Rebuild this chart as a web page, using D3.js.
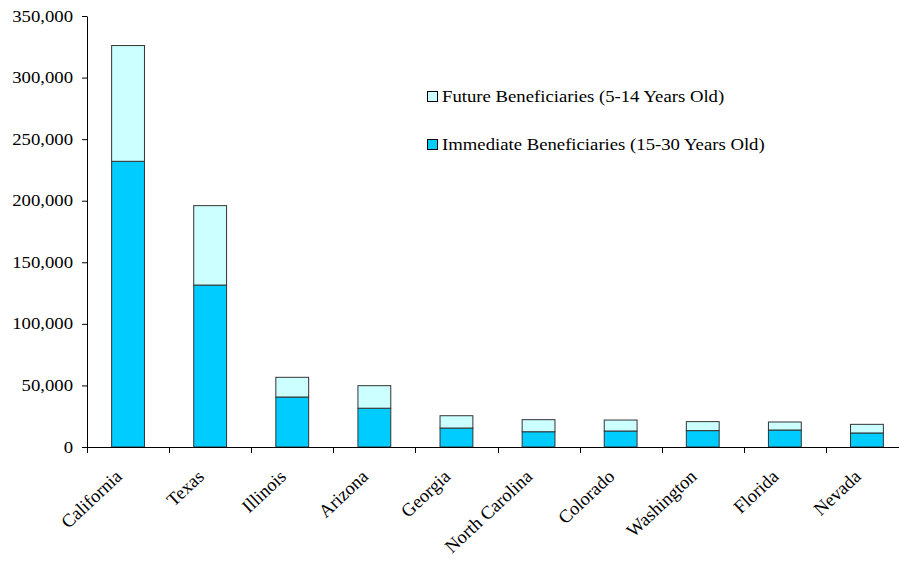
<!DOCTYPE html>
<html>
<head>
<meta charset="utf-8">
<script src="https://cdn.jsdelivr.net/npm/d3@7"></script>
<style>
  body { margin: 0; background: #fff; }
  svg { display: block; }
  text { font-family: "Liberation Serif", "Times New Roman", serif; fill: #000; }
</style>
</head>
<body>
<svg id="chart"></svg>
<script>
// data
const states = ["California", "Texas", "Illinois", "Arizona", "Georgia",
  "North Carolina", "Colorado", "Washington", "Florida", "Nevada"];
const immediate = [232000, 131500, 40600, 31500, 15400, 12400, 13000, 13300, 13800, 11400];
const future = [94000, 64500, 16000, 18300, 10000, 9800, 8900, 7300, 6500, 7000];
const yTicks = [0, 50000, 100000, 150000, 200000, 250000, 300000, 350000];
const seriesNames = ["Future Beneficiaries (5-14 Years Old)", "Immediate Beneficiaries (15-30 Years Old)"];
const colors = { immediate: "#00ccff", future: "#ccffff" };

const width = 899, height = 561;
// the original text looks stretched sideways
const stretch = 1.17;
const svg = d3.select("#chart").attr("width", width).attr("height", height);

// axis runs off the right edge, like the original
const x = d3.scaleBand().domain(states).range([87, 908]).paddingInner(0.6).paddingOuter(0.3);
const y = d3.scaleLinear().domain([0, 350000]).range([447, 16]);

const rows = states.map((s, i) => ({ state: s, immediate: immediate[i], future: future[i] }));
const stack = d3.stack().keys(["immediate", "future"])(rows);

// bars
svg.append("g")
  .selectAll("g")
  .data(stack)
  .enter()
  .append("g")
  .attr("fill", d => colors[d.key])
  .selectAll("rect")
  .data(d => d)
  .enter()
  .append("rect")
  .attr("x", d => x(d.data.state))
  .attr("width", x.bandwidth())
  .attr("y", d => y(d[1]))
  .attr("height", d => y(d[0]) - y(d[1]))
  .attr("stroke", "#333")
  .attr("stroke-width", 1);

// y axis
const yAxis = svg.append("g")
  .attr("transform", "translate(87,0)")
  .call(d3.axisLeft(y).tickValues(yTicks).tickSize(5).tickSizeOuter(0)
    .tickFormat(d3.format(",")));
yAxis.selectAll("text")
  .attr("font-size", 16)
  .attr("font-family", "Liberation Serif")
  .attr("x", 0)
  .attr("transform", `translate(-14,0) scale(${stretch},1)`);
yAxis.selectAll("line, path").attr("stroke", "#000");

// x axis, ticks between categories
const step = x.step();
const bounds = d3.range(states.length + 1).map(i => 87 + i * step);
svg.append("line")
  .attr("x1", 87).attr("x2", width).attr("y1", 447.5).attr("y2", 447.5)
  .attr("stroke", "#000");
svg.append("g")
  .selectAll("line")
  .data(bounds)
  .enter()
  .append("line")
  .attr("x1", d => Math.round(d) + 0.5)
  .attr("x2", d => Math.round(d) + 0.5)
  .attr("y1", 447)
  .attr("y2", 453)
  .attr("stroke", "#000");

svg.append("g")
  .selectAll("text")
  .data(states)
  .enter()
  .append("text")
  .attr("transform", d =>
    `translate(${x(d) + x.bandwidth() / 2 - 5},478) rotate(-43)`)
  .attr("text-anchor", "end")
  .attr("font-size", 18.5)
  .text(d => d);

// legend
const legend = svg.append("g").attr("transform", "translate(427,91)");
const legendItems = [
  { name: seriesNames[0], color: colors.future },
  { name: seriesNames[1], color: colors.immediate }
];
legend.selectAll("rect")
  .data(legendItems)
  .enter()
  .append("rect")
  .attr("x", 0.5)
  .attr("y", (d, i) => i * 48 + 0.5)
  .attr("width", 10)
  .attr("height", 10)
  .attr("fill", d => d.color)
  .attr("stroke", "#000");
legend.selectAll("text")
  .data(legendItems)
  .enter()
  .append("text")
  .attr("transform", (d, i) => `translate(15,${i * 48 + 11}) scale(${stretch},1)`)
  .attr("font-size", 16)
  .text(d => d.name);
</script>
</body>
</html>
